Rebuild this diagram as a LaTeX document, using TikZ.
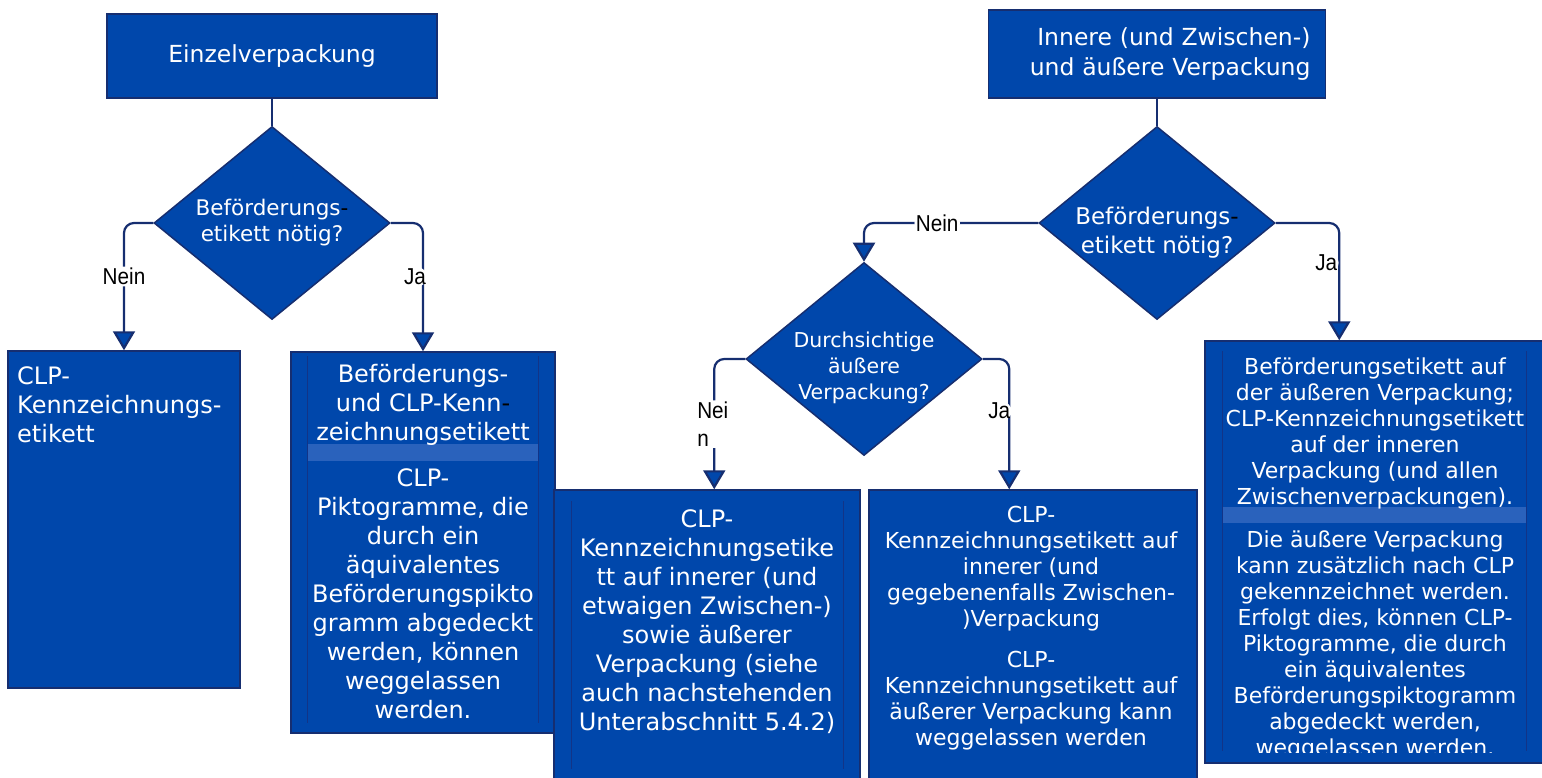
\documentclass[tikz,border=0pt]{standalone}
\usepackage{fontspec}
\setmainfont{DejaVu Sans}
\newfontfamily\lblfont[FakeStretch=0.9]{Liberation Sans}
\usepackage{xcolor}
\usepackage{tikz}
\usetikzlibrary{arrows.meta,positioning,shapes.geometric,calc}
\definecolor{clpblue}{RGB}{0,71,171}
\definecolor{navyline}{RGB}{22,46,112}
\definecolor{bandblue}{RGB}{42,98,188}
\definecolor{ribline}{RGB}{18,52,135}
\newcommand{\txtL}{\fontsize{24}{29}\selectfont}
\newcommand{\txtS}{\fontsize{22}{26}\selectfont}
\newcommand{\blackhyph}{\textcolor{black}{-}}
% lowered multi-line text for the diamonds
\newcommand{\lowtext}[2]{\raisebox{#1}[0pt][0pt]{\begin{tabular}{@{}c@{}}#2\end{tabular}}}

\begin{document}
\begin{tikzpicture}[
        x=1pt, y=-1pt,
        box/.style={draw=navyline, line width=1.5pt, fill=clpblue, inner sep=0pt},
        dia/.style={diamond, draw=navyline, line width=1.5pt, fill=clpblue, text=white, align=center, inner sep=0pt, shape aspect=1.22, minimum width=236pt, minimum height=193pt},
        txt/.style={text=white, align=center, inner sep=0pt},
        conn/.style={draw=navyline, line width=2.2pt, rounded corners=10pt},
        arr/.style={conn, -{Triangle[width=22pt, length=19pt, fill=clpblue]}},
        lbl/.style={fill=white, text=black, inner sep=1.5pt, font=\lblfont\fontsize{23}{28}\selectfont},
        rib/.style={draw=ribline, line width=0.8pt},
        band/.style={fill=bandblue}
      ]
        \useasboundingbox (0,0) rectangle (1542,778);
        \clip (0,0) rectangle (1542,778);

        % single packaging
        \node[box, minimum width=330pt, minimum height=84pt, text=white, font=\fontsize{23.5}{28}\selectfont] (single) at (272,56) {Einzelverpackung};
        \node[dia, below=27pt of single, font=\fontsize{21.5}{26}\selectfont] (needA) {Beförderungs\blackhyph\\etikett nötig?};
        \node[box, minimum width=232pt, minimum height=337pt] (clpA) at (124,519.5) {};
        \node[txt, anchor=north west, align=left, font=\txtL] (clpAtxt) at (17,366) {CLP-\\Kennzeichnungs-\\etikett};
        \node[box, minimum width=264pt, minimum height=381pt] (bothA) at (423,542.5) {};
        \fill[band] ($(bothA.north west)+(17,93)$) rectangle ($(bothA.north east)+(-17,110)$);
        \draw[rib] ($(bothA.north west)+(17,5)$) -- ($(bothA.south west)+(17,-11)$);
        \draw[rib] ($(bothA.north east)+(-17,5)$) -- ($(bothA.south east)+(-17,-11)$);
        \node[txt, anchor=north, font=\txtL] (bothAtop) at (423,364) {Beförderungs-\\und CLP-Kenn\blackhyph\\zeichnungsetikett};
        \node[txt, anchor=north, font=\txtL] (bothAbot) at (423,468) {CLP-\\Piktogramme, die\\durch ein\\äquivalentes\\Beförderungspikto\\gramm abgedeckt\\werden, können\\weggelassen\\werden.};

        \draw[conn] (single) -- (needA);
        \draw[arr] (needA.west) -| node[lbl, pos=0.71] (noA) {Nein} (clpA.north);
        \draw[arr] (needA.east) -| node[lbl, pos=0.71, xshift=-8pt] (yesA) {Ja} (bothA.north);

        % inner and outer packaging
        \node[box, minimum width=337pt, minimum height=88pt, text=white, text width=307pt, align=right, font=\fontsize{23.5}{30}\selectfont] (multi) at (1157,54) {Innere (und Zwischen-)\\und äußere Verpackung};
        \node[dia, below=27pt of multi, font=\fontsize{23}{29}\selectfont] (needB) {\lowtext{-16pt}{Beförderungs\blackhyph\\etikett nötig?}};
        \node[dia, font=\fontsize{20.5}{26}\selectfont] (clear) at (864,359) {\lowtext{-14pt}{Durchsichtige\\äußere\\Verpackung?}};

        \node[box, minimum width=306pt, minimum height=330pt] (clpC) at (707,655) {};
        \draw[rib] ($(clpC.north west)+(18,12)$) -- ($(clpC.north west)+(18,280)$);
        \draw[rib] ($(clpC.north east)+(-17,12)$) -- ($(clpC.north east)+(-17,280)$);
        \node[txt, anchor=north, font=\txtL] (clpCtxt) at (707,509) {CLP-\\Kennzeichnungsetike\\tt auf innerer (und\\etwaigen Zwischen-)\\sowie äußerer\\Verpackung (siehe\\auch nachstehenden\\Unterabschnitt 5.4.2)};

        \node[box, minimum width=328pt, minimum height=330pt] (clpD) at (1033,655) {};
        \node[txt, anchor=north, font=\txtS] (clpDtxt) at (1031,506) {CLP-\\Kennzeichnungsetikett auf\\innerer (und\\gegebenenfalls Zwischen-\\)Verpackung\\[15pt]CLP-\\Kennzeichnungsetikett auf\\äußerer Verpackung kann\\weggelassen werden};

        \node[box, minimum width=342pt, minimum height=422pt] (outerR) at (1376,552) {};
        \fill[band] ($(outerR.north west)+(18,167)$) rectangle ($(outerR.north west)+(322,183)$);
        \draw[rib] ($(outerR.north west)+(18,11)$) -- ($(outerR.north west)+(18,411)$);
        \draw[rib] ($(outerR.north west)+(322,11)$) -- ($(outerR.north west)+(322,411)$);
        \begin{scope}
          \clip (1205,341) rectangle (1542,752);
          \node[txt, anchor=north, font=\txtS] (outerRtop) at (1375,358) {Beförderungsetikett auf\\der äußeren Verpackung;\\CLP-Kennzeichnungsetikett\\auf der inneren\\Verpackung (und allen\\Zwischenverpackungen).};
          \node[txt, anchor=north, font=\txtS] (outerRbot) at (1375,531) {Die äußere Verpackung\\kann zusätzlich nach CLP\\gekennzeichnet werden.\\Erfolgt dies, können CLP-\\Piktogramme, die durch\\ein äquivalentes\\Beförderungspiktogramm\\abgedeckt werden,\\weggelassen werden.};
        \end{scope}

        \draw[conn] (multi) -- (needB);
        \draw[arr] (needB.west) -| node[lbl, pos=0.29] (noB) {Nein} (clear.north);
        \draw[arr] (needB.east) -| node[lbl, pos=0.67, xshift=-13pt] (yesB) {Ja} ($(outerR.north west)+(135,0)$);
        \draw[arr] (clear.west) -| node[lbl, pos=0.75, text width=34pt, align=left] (noC) {Nei\\n} ($(clpC.north west)+(161,0)$);
        \draw[arr] (clear.east) -| node[lbl, pos=0.70, xshift=-10pt] (yesC) {Ja} ($(clpD.north west)+(141,0)$);
      \end{tikzpicture}
\end{document}
